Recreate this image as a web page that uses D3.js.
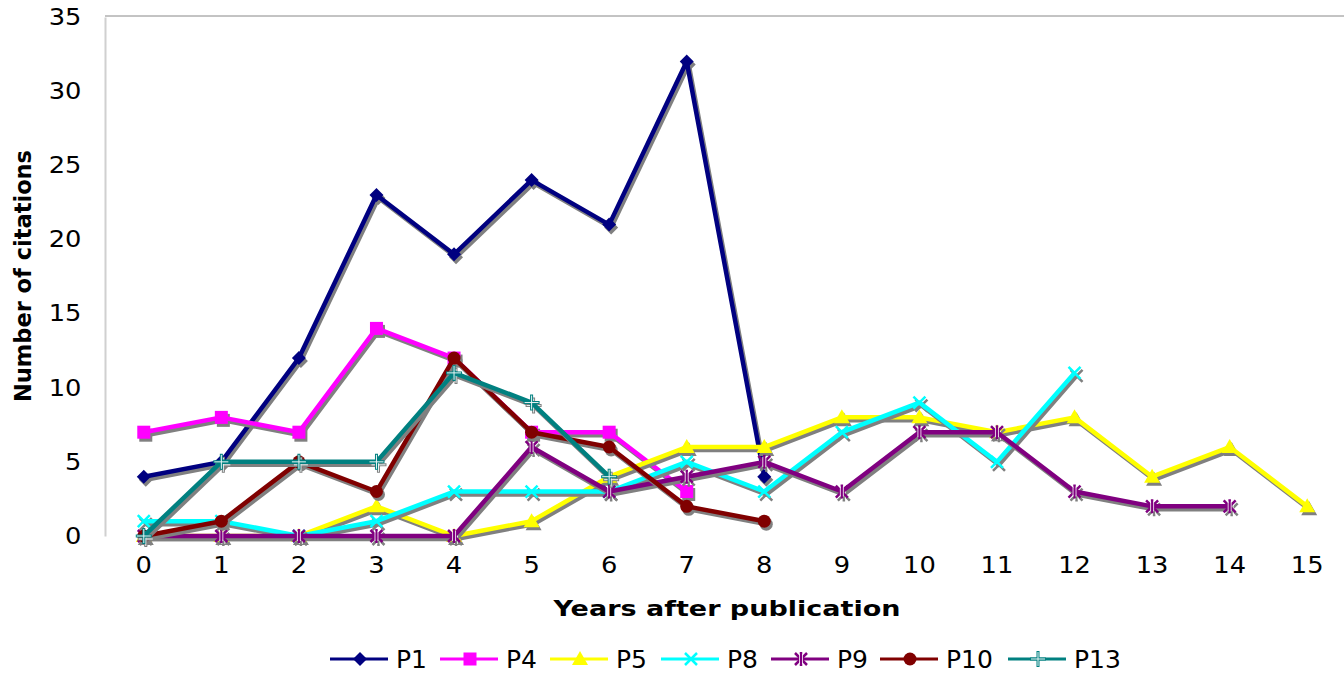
<!DOCTYPE html>
<html>
<head>
<meta charset="utf-8">
<script src="https://cdn.jsdelivr.net/npm/d3@7"></script>
<style>
  body { margin: 0; background: #fff; }
  text { font-family: "DejaVu Sans", sans-serif; }
</style>
</head>
<body>
<svg id="chart" width="1344" height="674"></svg>
<script>
const svg = d3.select('#chart')

// years after publication
const years = [0, 1, 2, 3, 4, 5, 6, 7, 8, 9, 10, 11, 12, 13, 14, 15]
const yTicks = [0, 5, 10, 15, 20, 25, 30, 35]

// citations per year, one array per paper
const p1  = [4, 5, 12, 23, 19, 24, 21, 32, 4]
const p4  = [7, 8, 7, 14, 12, 7, 7, 3]
const p5  = [0, 0, 0, 2, 0, 1, 4, 6, 6, 8, 8, 7, 8, 4, 6, 2]
const p8  = [1, 1, 0, 1, 3, 3, 3, 5, 3, 7, 9, 5, 11]
const p9  = [0, 0, 0, 0, 0, 6, 3, 4, 5, 3, 7, 7, 3, 2, 2]
const p10 = [0, 1, 5, 3, 12, 7, 6, 2, 1]
const p13 = [0, 5, 5, 5, 11, 9, 4]

const seriesNames = ['P1', 'P4', 'P5', 'P8', 'P9', 'P10', 'P13']
const seriesValues = [p1, p4, p5, p8, p9, p10, p13]
const seriesColors = ['#000080', '#ff00ff', '#ffff00', '#00ffff', '#800080', '#800000', '#008080']
const seriesMarkers = ['diamond', 'square', 'triangle', 'x', 'star', 'circle', 'plus']

const plotLeft = 105, plotRight = 1346, plotTop = 17, plotBottom = 536

const x = d3.scaleBand()
	.domain(years)
	.range([plotLeft, plotRight])
const xc = d => x(d) + x.bandwidth() / 2

const y = d3.scaleLinear()
	.domain([0, 35])
	.range([plotBottom, plotTop])

// plot frame: gray top line, light left axis
svg.append('line')
	.attr('x1', plotLeft).attr('x2', plotRight).attr('y1', plotTop - 1).attr('y2', plotTop - 1)
	.attr('stroke', '#888').attr('stroke-width', 1)

const yAxis = svg.append('g')
	.attr('transform', 'translate(' + plotLeft + ',0)')
	.call(d3.axisLeft(y).tickValues(yTicks).tickSize(0).tickPadding(21))
yAxis.select('.domain').attr('stroke', '#d0d0d0').attr('stroke-width', 2)
yAxis.attr('font-size', 23).attr('font-family', '"DejaVu Sans", sans-serif')
yAxis.selectAll('text').attr('fill', '#000').attr('transform', 'scale(1.12,1)')

const xAxis = svg.append('g')
	.attr('transform', 'translate(0,' + plotBottom + ')')
	.call(d3.axisBottom(x).tickSize(0).tickPadding(21))
xAxis.select('.domain').remove()
xAxis.attr('font-size', 23).attr('font-family', '"DejaVu Sans", sans-serif')
xAxis.selectAll('text').attr('fill', '#000').attr('transform', 'scale(1.12,1)')

// axis titles
svg.append('text')
	.attr('x', 727).attr('y', 616)
	.attr('text-anchor', 'middle')
	.attr('font-size', 22).attr('font-weight', 'bold')
	.attr('textLength', 347).attr('lengthAdjust', 'spacingAndGlyphs')
	.text('Years after publication')

svg.append('text')
	.attr('transform', 'translate(31,276) rotate(-90)')
	.attr('text-anchor', 'middle')
	.attr('font-size', 23).attr('font-weight', 'bold')
	.attr('textLength', 252).attr('lengthAdjust', 'spacingAndGlyphs')
	.text('Number of citations')

// marker drawing
function drawMarker(g, type, color, cx, cy, s) {
	s = s || 1
	if (type === 'diamond') {
		g.append('path').attr('d', `M${cx},${cy - 7 * s}L${cx + 7 * s},${cy}L${cx},${cy + 7 * s}L${cx - 7 * s},${cy}Z`).attr('fill', color)
	} else if (type === 'square') {
		g.append('rect').attr('x', cx - 6.5 * s).attr('y', cy - 6.5 * s).attr('width', 13 * s).attr('height', 13 * s).attr('fill', color)
	} else if (type === 'triangle') {
		g.append('path').attr('d', `M${cx},${cy - 8 * s}L${cx + 8 * s},${cy + 6 * s}L${cx - 8 * s},${cy + 6 * s}Z`).attr('fill', color)
	} else if (type === 'circle') {
		g.append('circle').attr('cx', cx).attr('cy', cy).attr('r', 6.5 * s).attr('fill', color)
	} else if (type === 'x') {
		g.append('path').attr('d', `M${cx - 6 * s},${cy - 6 * s}L${cx + 6 * s},${cy + 6 * s}M${cx + 6 * s},${cy - 6 * s}L${cx - 6 * s},${cy + 6 * s}`)
			.attr('stroke', color).attr('stroke-width', 2.5).attr('fill', 'none')
	} else if (type === 'star') {
		g.append('path').attr('d', `M${cx - 6 * s},${cy - 6 * s}L${cx + 6 * s},${cy + 6 * s}M${cx + 6 * s},${cy - 6 * s}L${cx - 6 * s},${cy + 6 * s}M${cx},${cy - 7 * s}L${cx},${cy + 7 * s}`)
			.attr('stroke', color).attr('stroke-width', 2.5).attr('fill', 'none')
		g.append('path').attr('d', `M${cx - 1.5},${cy - 5 * s}L${cx - 1.5},${cy + 5 * s}M${cx + 1.5},${cy - 5 * s}L${cx + 1.5},${cy + 5 * s}`)
			.attr('stroke', '#fff').attr('stroke-width', 0.8)
	} else if (type === 'plus') {
		g.append('path').attr('d', `M${cx - 8 * s},${cy}L${cx + 8 * s},${cy}M${cx},${cy - 8 * s}L${cx},${cy + 8 * s}`)
			.attr('stroke', color).attr('stroke-width', 3).attr('fill', 'none')
		g.append('path').attr('d', `M${cx - 7 * s},${cy}L${cx + 7 * s},${cy}M${cx},${cy - 7 * s}L${cx},${cy + 7 * s}`)
			.attr('stroke', '#e8f4f4').attr('stroke-width', 1)
	}
}

const line = d3.line()
	.x((d, i) => xc(years[i]))
	.y(d => y(d))

seriesValues.forEach((vals, k) => {
	const g = svg.append('g')
	// shadow
	g.append('path')
		.datum(vals)
		.attr('fill', 'none')
		.attr('stroke', '#808080')
		.attr('stroke-width', 4.5)
		.attr('stroke-linejoin', 'round')
		.attr('transform', 'translate(2,3)')
		.attr('d', line)
	const sh = g.append('g').attr('transform', 'translate(2,3)')
	vals.forEach((v, i) => drawMarker(sh, seriesMarkers[k], '#808080', xc(years[i]), y(v)))
	// line
	g.append('path')
		.datum(vals)
		.attr('fill', 'none')
		.attr('stroke', seriesColors[k])
		.attr('stroke-width', 4.5)
		.attr('stroke-linejoin', 'round')
		.attr('d', line)
	vals.forEach((v, i) => drawMarker(g, seriesMarkers[k], seriesColors[k], xc(years[i]), y(v)))
})

// legend
const legendX = [330, 440, 550, 661, 771, 880, 1008]
const legend = svg.append('g')
seriesNames.forEach((name, k) => {
	const lx = legendX[k], ly = 659
	legend.append('line')
		.attr('x1', lx).attr('x2', lx + 58).attr('y1', ly).attr('y2', ly)
		.attr('stroke', seriesColors[k]).attr('stroke-width', 3)
	drawMarker(legend, seriesMarkers[k], seriesColors[k], lx + 30, ly, 1)
	legend.append('text')
		.attr('x', lx + 66).attr('y', 668)
		.attr('font-size', 25)
		.text(name)
})
</script>
</body>
</html>
